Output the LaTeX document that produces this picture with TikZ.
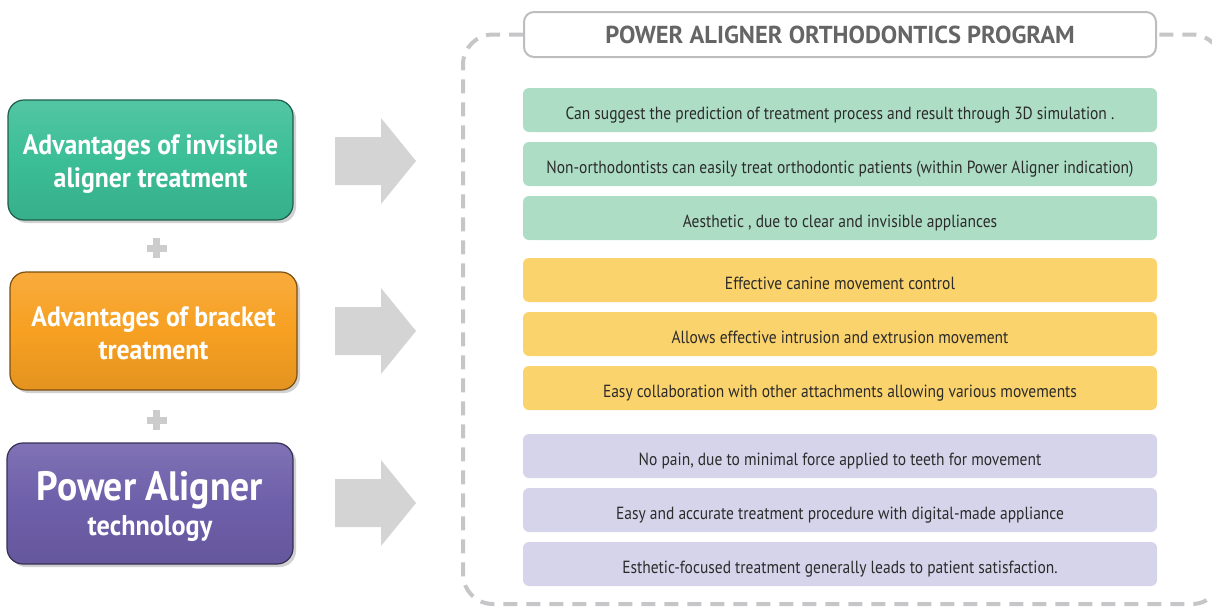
\documentclass[tikz,border=0pt]{standalone}
\usepackage{fontspec}
\setmainfont{PT Sans}
\newfontfamily\itemfont{PT Sans}[FakeStretch=0.88]
\newfontfamily\boxfont{PT Sans}[FakeStretch=0.92]
\newfontfamily\titlefont{PT Sans}
\usetikzlibrary{shadows}
\definecolor{cgreen}{HTML}{3BBE96}
\definecolor{corange}{HTML}{F7A022}
\definecolor{cpurple}{HTML}{6E5FAA}
\definecolor{lgreen}{HTML}{AEDDC6}
\definecolor{lyellow}{HTML}{FBD36C}
\definecolor{lpurple}{HTML}{D6D4EA}
\definecolor{arrowgray}{HTML}{D4D4D4}
\definecolor{plusgray}{HTML}{CCCCCC}
\definecolor{framegray}{HTML}{C6C6C8}
\definecolor{titlegray}{HTML}{BDBDC0}
\definecolor{titletext}{HTML}{656565}
\definecolor{itemtext}{HTML}{2B2B2B}
\tikzset{
  bigbox/.style={rounded corners=16pt, draw=#1!50!black, line width=1.2pt,
    top color=#1!88!white, bottom color=#1!92!black, middle color=#1,
    drop shadow={shadow xshift=3pt, shadow yshift=-3pt, fill=black!40, opacity=0.45}},
  boxtext/.style={text=white, align=center, font=\boxfont\bfseries\fontsize{28}{33}\selectfont, inner sep=0pt},
  itembox/.style={rounded corners=6pt, fill=#1, minimum width=634pt, minimum height=44pt,
    text=itemtext, font=\itemfont\fontsize{17.6}{20}\selectfont, inner sep=0pt,
    text height=18pt, text depth=0pt},
  titlebox/.style={rounded corners=10pt, draw=titlegray, line width=2pt, fill=white,
    minimum width=632pt, minimum height=45pt, text=titletext,
    font=\titlefont\bfseries\fontsize{24.5}{28}\selectfont},
  frame/.style={draw=framegray, line width=4pt, dash pattern=on 14pt off 9pt, rounded corners=30pt}
}
\newcommand{\bigarrow}[1]{%
  \fill[arrowgray] (335,#1-24) -- (381,#1-24) -- (381,#1-43) -- (416,#1) -- (381,#1+43) -- (381,#1+24) -- (335,#1+24) -- cycle;}
\begin{document}
\begin{tikzpicture}[x=1pt,y=-1pt]
\useasboundingbox (0,0) rectangle (1212,608);

% dashed frame and title
\coordinate (ftl) at (463,34.5);
\coordinate (fbl) at (463,604);
\coordinate (fbr) at (1222,604);
\coordinate (ftr) at (1222,34.5);
\node[titlebox, draw=none, fill=none, text opacity=0] (tpos) at (840,34.5) {POWER ALIGNER ORTHODONTICS PROGRAM};
\draw[frame] (tpos.west) -- (ftl) -- (fbl) -- (fbr) -- (ftr) -- (tpos.east);
\node[titlebox] (title) at (840,34.5) {POWER ALIGNER ORTHODONTICS PROGRAM};

% left boxes
\node[bigbox=cgreen, minimum width=285pt, minimum height=120pt] (adv1) at (150.5,160) {};
\node[boxtext] (adv1t) at ([yshift=-4pt]adv1.center) {Advantages of invisible\\aligner treatment};
\node[bigbox=corange, minimum width=287pt, minimum height=118pt] (adv2) at (153.5,331) {};
\node[boxtext] (adv2t) at ([yshift=-2pt]adv2.center) {Advantages of bracket\\treatment};
\node[bigbox=cpurple, minimum width=286pt, minimum height=121pt] (adv3) at (150,503.5) {};
\node[boxtext] (adv3t) at ([yshift=-3pt]adv3.center) {{\fontsize{41}{40}\selectfont Power Aligner}\\[2pt]{\fontsize{28.5}{30}\selectfont technology}};

% plus signs
\fill[plusgray] (146.5,244.5) rectangle (166.5,251.5);
\fill[plusgray] (153,238) rectangle (160,258);
\fill[plusgray] (146.5,416.5) rectangle (166.5,423.5);
\fill[plusgray] (153,410) rectangle (160,430);

% big arrows
\bigarrow{161}
\bigarrow{331}
\bigarrow{503}

% items
\node[itembox=lgreen] (g1) at (840,110) {Can suggest the prediction of treatment process and result through 3D simulation .};
\node[itembox=lgreen] (g2) at (840,164) {Non-orthodontists can easily treat orthodontic patients (within Power Aligner indication)};
\node[itembox=lgreen] (g3) at (840,218) {Aesthetic , due to clear and invisible appliances};
\node[itembox=lyellow] (y1) at (840,280) {Effective canine movement control};
\node[itembox=lyellow] (y2) at (840,334) {Allows effective intrusion and extrusion movement};
\node[itembox=lyellow] (y3) at (840,388) {Easy collaboration with other attachments allowing various movements};
\node[itembox=lpurple] (p1) at (840,456) {No pain, due to minimal force applied to teeth for movement};
\node[itembox=lpurple] (p2) at (840,510) {Easy and accurate treatment procedure with digital-made appliance};
\node[itembox=lpurple] (p3) at (840,564) {Esthetic-focused treatment generally leads to patient satisfaction.};
\end{tikzpicture}
\end{document}
